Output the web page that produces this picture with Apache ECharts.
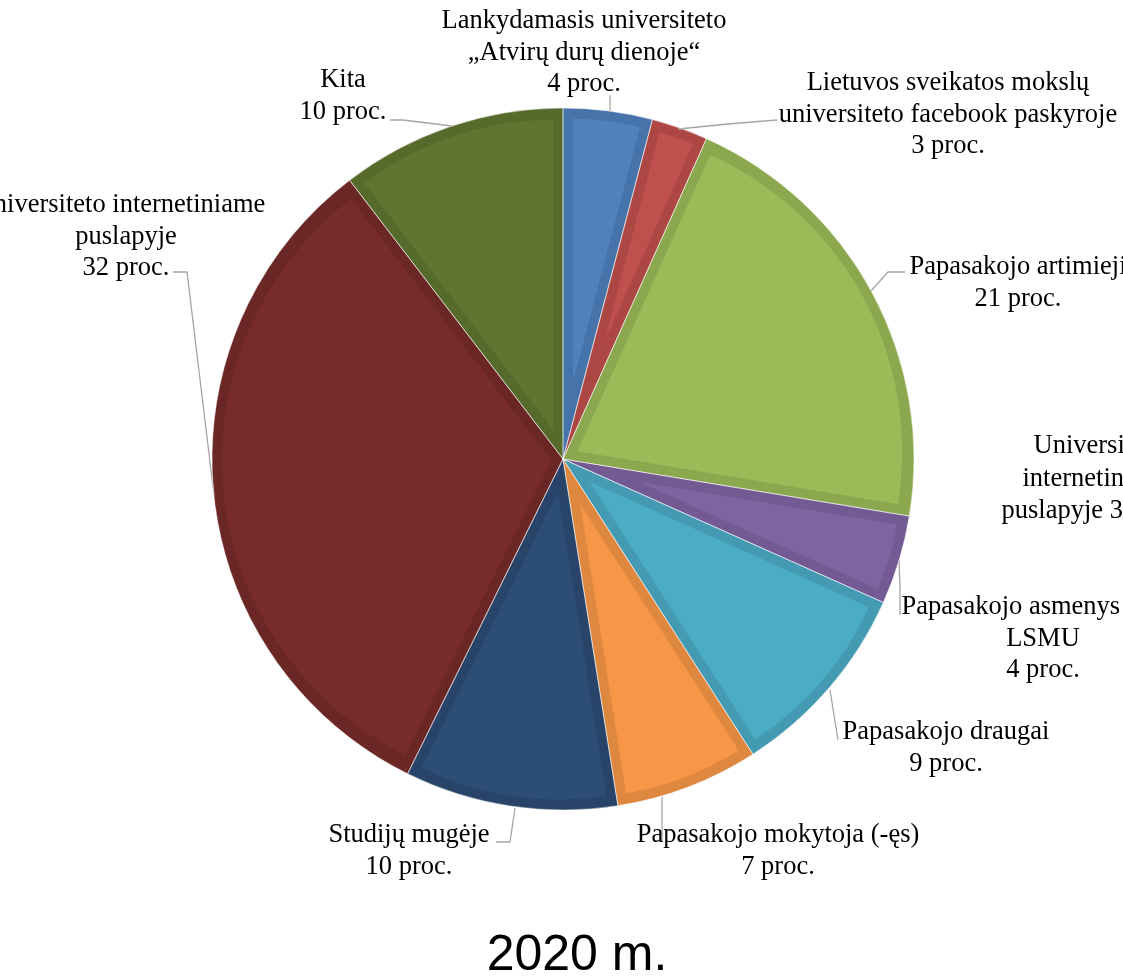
<!DOCTYPE html>
<html><head><meta charset="utf-8">
<script src="https://cdn.jsdelivr.net/npm/echarts@6/dist/echarts.min.js"></script>
<style>html,body{margin:0;padding:0;background:#fff;overflow:hidden}#c{width:1123px;height:977px}</style>
</head><body><div id="c"></div>
<script>
// ---- data ----
const categories = [
  'Lankydamasis universiteto\n„Atvirų durų dienoje“',
  'Lietuvos sveikatos mokslų\nuniversiteto facebook paskyroje',
  'Papasakojo artimieji',
  'Papasakojo asmenys iš\nLSMU',
  'Papasakojo draugai',
  'Papasakojo mokytoja (-ęs)',
  'Studijų mugėje',
  'Universiteto internetiniame\npuslapyje',
  'Kita'
];
// shares in percent (labels show them rounded)
const values = [4.1, 2.6, 20.9, 4.1, 9.2, 6.6, 9.8, 32.3, 10.4];
const valueSuffix = ' proc.';
const chartTitle = '2020 m.';
const strayLabel = 'Universiteto\ninternetiniame\npuslapyje 32 proc.';

// ---- styles / layout ----
const fillColors = ['#4F81BD','#C0504D','#9BBB59','#8064A2','#4BACC6','#F79646','#2C4D75','#772C2A','#5F7530'];
const edgeColors = ['#4674AA','#AC4744','#8BA84F','#735A92','#449AB2','#DE873F','#284569','#6B2725','#556A2B'];
const labelCenters = [[584,53],[948,115],[1018,283],[1043,639],[946,748],[778,851],[409,851],[126,237],[343,96]];
const firstLinePadRight = [0, 0, 0, 40, 0, 0, 0, 12, 0];
const leaderPoints = [
  [[610,112],[610,103],[610,95]],
  [[678,129],[728,124],[777,120]],
  [[871,291],[888,272],[905,272]],
  [[899,560],[900,588],[900,615]],
  [[830,690],[834,715],[838,740]],
  [[662,797],[662,820],[662,842]],
  [[515,808],[510,842],[496,842]],
  [[214,495],[187,272],[173,272]],
  [[452,126],[403,120],[390,120]]
];
const CX = 563, CY = 459, R = 351, INSET = 10;
const serif = '"Liberation Serif","Times New Roman",serif';
const FS = 26.5, LH = 31.5;

const total = values.reduce((a, b) => a + b, 0);
const rich = {t: {fontFamily: serif, fontSize: FS, lineHeight: LH, color: '#000', align: 'center'}};
firstLinePadRight.forEach((p, i) => {
  rich['f' + i] = {fontFamily: serif, fontSize: FS, lineHeight: LH, color: '#000', align: 'center', padding: [0, p, 0, 0]};
});

// inner (lighter) part of each slice, inset from the slice edges
let cum = 0;
const fillSeries = values.map((v, i) => {
  const a0 = cum / total * 2 * Math.PI; cum += v;
  const a1 = cum / total * 2 * Math.PI;
  const half = (a1 - a0) / 2, mid = a0 + half;
  const s = INSET / Math.sin(half);
  return {
    type: 'pie', silent: true, z: 2,
    center: [CX + s * Math.sin(mid), CY - s * Math.cos(mid)],
    radius: R - INSET - s,
    startAngle: 90 - a0 * 180 / Math.PI, clockwise: true,
    label: {show: false}, labelLine: {show: false}, emphasis: {disabled: true},
    data: [
      {value: v, itemStyle: {color: fillColors[i]}},
      {value: total - v, itemStyle: {color: 'rgba(0,0,0,0)'}}
    ]
  };
});

const chart = echarts.init(document.getElementById('c'), null, {renderer: 'canvas'});
chart.setOption({
  animation: false,
  backgroundColor: '#fff',
  series: [
    {
      type: 'pie', center: [CX, CY], radius: R, startAngle: 90, clockwise: true,
      silent: true, z: 1,
      data: values.map((v, i) => ({name: categories[i], value: v, itemStyle: {color: edgeColors[i]}})),
      label: {show: false}, labelLine: {show: false}, emphasis: {disabled: true}
    },
    ...fillSeries,
    {
      type: 'pie', center: [CX, CY], radius: R, startAngle: 90, clockwise: true,
      avoidLabelOverlap: false, silent: true, z: 3,
      data: values.map((v, i) => ({name: categories[i], value: v})),
      itemStyle: {color: 'rgba(0,0,0,0)', borderColor: 'rgba(255,255,255,0.45)', borderWidth: 1},
      label: {
        show: true, position: 'outside',
        formatter: p => (p.name + '\n' + Math.round(p.value) + valueSuffix).split('\n')
          .map((t, k) => k === 0 ? '{f' + p.dataIndex + '|' + t + '}' : '{t|' + t + '}').join('\n'),
        rich: rich, align: 'center'
      },
      labelLine: {show: true, lineStyle: {color: '#A6A6A6', width: 1.3}},
      labelLayout: p => ({
        x: labelCenters[p.dataIndex][0], y: labelCenters[p.dataIndex][1],
        align: 'center', verticalAlign: 'middle',
        labelLinePoints: leaderPoints[p.dataIndex]
      }),
      emphasis: {disabled: true}
    }
  ],
  graphic: [
    {type: 'text', x: 577, y: 956, style: {text: chartTitle, font: '50px "Liberation Sans", Arial, sans-serif', fill: '#000', align: 'center', verticalAlign: 'middle'}},
    {type: 'text', x: 1099, y: 479, style: {text: strayLabel, font: FS + 'px ' + serif, lineHeight: 32.5, fill: '#000', align: 'center', verticalAlign: 'middle'}}
  ]
});
</script>
</body></html>
